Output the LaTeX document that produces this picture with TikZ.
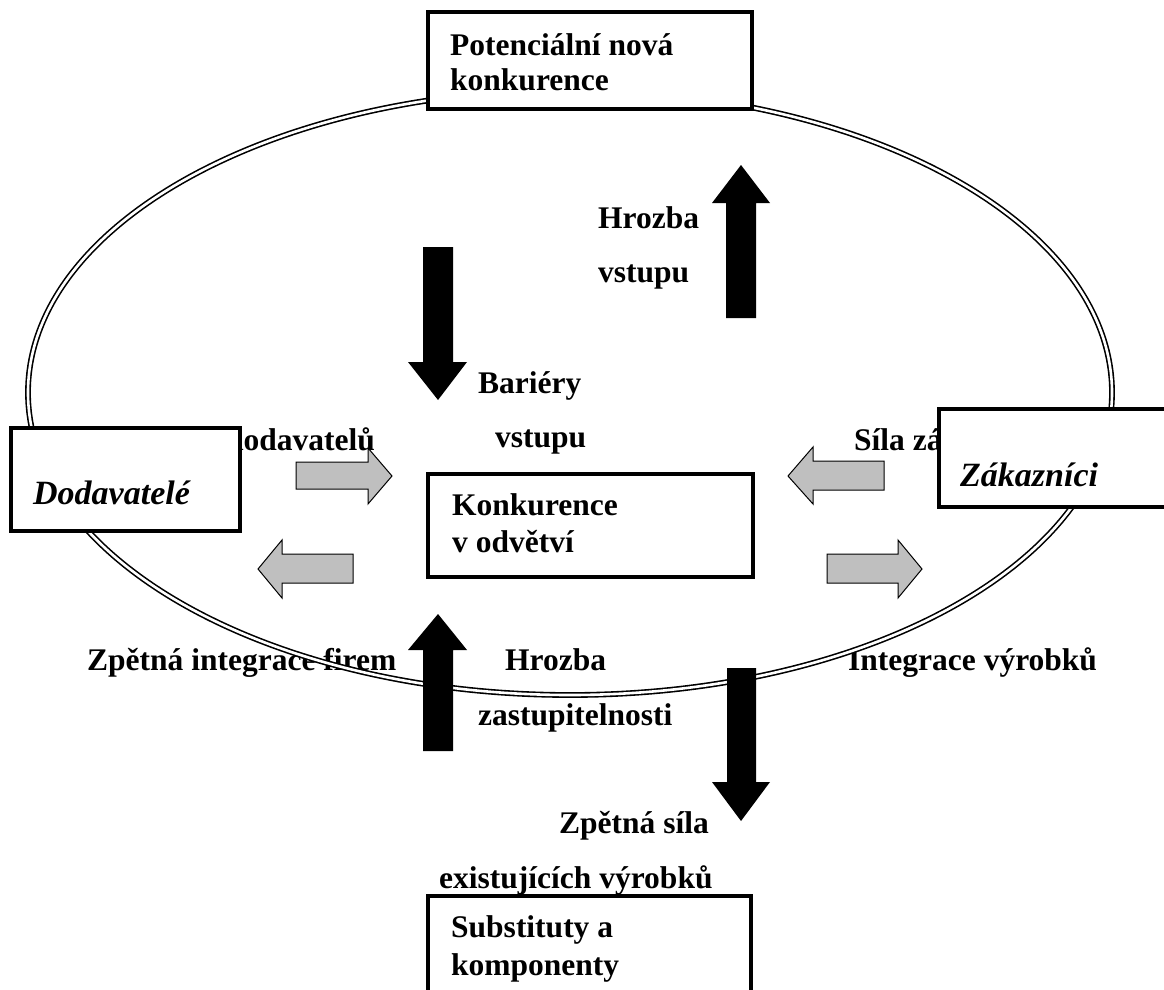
\documentclass[tikz,border=0pt]{standalone}
\usepackage{fontspec}
\setmainfont{Liberation Serif}
\begin{document}
\begin{tikzpicture}[x=1pt,y=-1pt,
  lbl/.style={inner sep=0pt, anchor=base west, align=left,
    font=\fontsize{31.5}{#1}\selectfont\bfseries},
  lbl/.default=36,
  ilbl/.style={inner sep=0pt, anchor=base west,
    font=\fontsize{34}{40}\selectfont\bfseries\itshape},
  box/.style={draw=black, line width=3.2pt, fill=white, inner sep=0pt},
  ring/.style={draw=black, line width=1.6pt, double=white, double distance=2.6pt},
  grayarrow/.style={draw=black, line width=1pt, fill=black!25},
  blackarrow/.style={fill=black, draw=none}
]
\useasboundingbox (0,0) rectangle (1164,990);

% labels partly hidden behind the boxes
\node[lbl, anchor=base east] (sd) at (375,450) {Síla dodavatelů};
\node[lbl] (sz) at (854,450) {Síla zákazníků};

% free labels
\node[lbl] (hv1) at (598,228) {Hrozba};
\node[lbl] (hv2) at (598,282) {vstupu};
\node[lbl] (bv1) at (478,393) {Bariéry};
\node[lbl] (bv2) at (495,447) {vstupu};
\node[lbl] (zif) at (87,670) {Zpětná integrace firem};
\node[lbl] (iv) at (848,670) {Integrace výrobků};
\node[lbl] (hz1) at (505,670) {Hrozba};
\node[lbl] (hz2) at (478,725) {zastupitelnosti};
\node[lbl] (zs1) at (559,833) {Zpětná síla};
\node[lbl] (zs2) at (439,888) {existujících výrobků};

% double ellipse
\draw[ring] (570,392.5) ellipse [x radius=542pt, y radius=302.5pt];

% gray block arrows
\draw[grayarrow] (296,462) -- (368,462) -- (368,448) -- (392,476) -- (368,504) -- (368,489) -- (296,489) -- cycle;
\draw[grayarrow] (353,554) -- (282,554) -- (282,540) -- (258,569) -- (282,598) -- (282,583) -- (353,583) -- cycle;
\draw[grayarrow] (884,461) -- (813,461) -- (813,447) -- (788,476) -- (813,504) -- (813,490) -- (884,490) -- cycle;
\draw[grayarrow] (827,554) -- (898,554) -- (898,540) -- (922,569) -- (898,598) -- (898,583) -- (827,583) -- cycle;

% black block arrows
\fill[blackarrow] (423,247) -- (453,247) -- (453,362) -- (467,362) -- (438,400) -- (408,362) -- (423,362) -- cycle;
\fill[blackarrow] (726,318) -- (756,318) -- (756,203) -- (770,203) -- (741,165) -- (712,203) -- (726,203) -- cycle;
\fill[blackarrow] (423,751) -- (453,751) -- (453,650) -- (467,650) -- (438,614) -- (408,650) -- (423,650) -- cycle;
\fill[blackarrow] (727,668) -- (756,668) -- (756,782) -- (770,782) -- (741,821) -- (712,782) -- (727,782) -- cycle;

% boxes
\node[box, minimum width=324pt, minimum height=97pt] (pot) at (590,60.5) {};
\node[box, minimum width=229pt, minimum height=103pt] (dod) at (125.5,479.5) {};
\node[box, minimum width=236pt, minimum height=98pt] (zak) at (1057,458) {};
\node[box, minimum width=325pt, minimum height=103pt] (kon) at (590.5,525.5) {};
\node[box, minimum width=323pt, minimum height=114pt] (sub) at (589.5,953) {};

% box texts (anchor = baseline of last line)
\node[lbl=35] (pott) at (450,90) {Potenciální nová\\konkurence};
\node[ilbl] (dodt) at (33,504) {Dodavatelé};
\node[ilbl] (zakt) at (960,486) {Zákazníci};
\node[lbl=37] (kont) at (452,552) {Konkurence\\v odvětví};
\node[lbl=38] (subt) at (451,975) {Substituty a\\komponenty};
\end{tikzpicture}
\end{document}
